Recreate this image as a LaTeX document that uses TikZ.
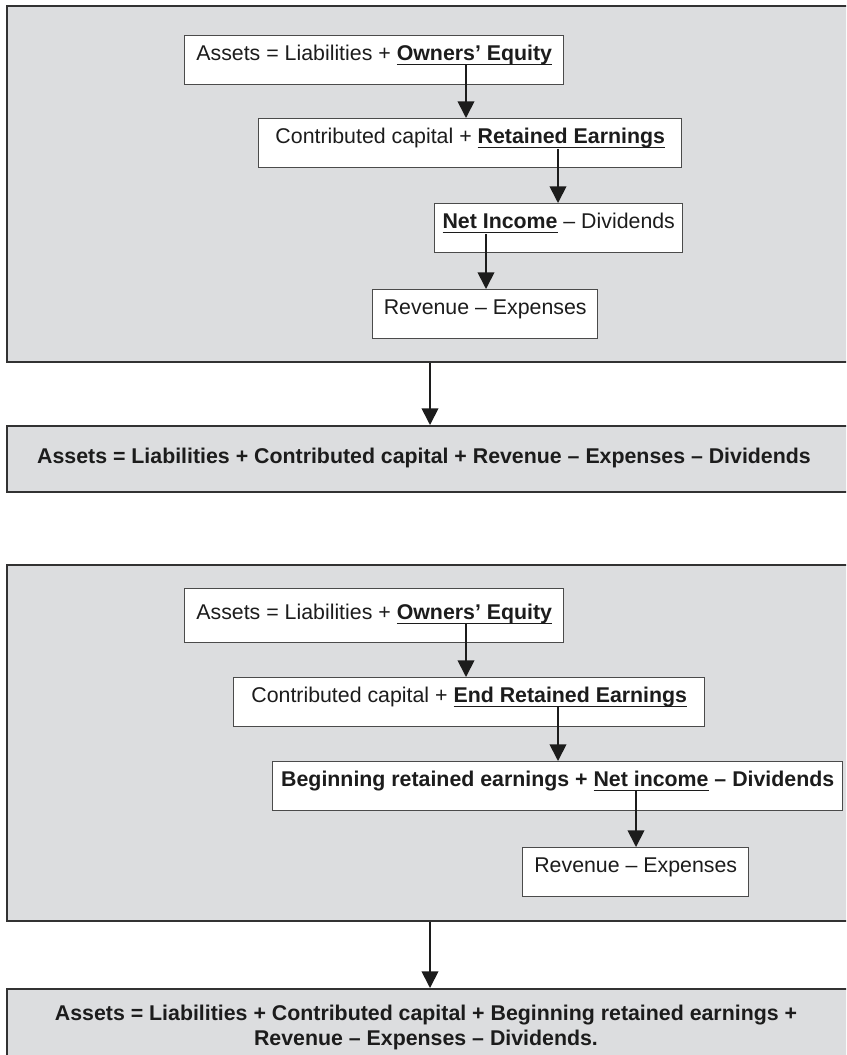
\documentclass[tikz,border=0pt]{standalone}
\usepackage{fontspec}
\setmainfont{Liberation Sans}
\usetikzlibrary{arrows.meta}
\definecolor{panelgray}{RGB}{220,221,223}
\definecolor{framegray}{RGB}{50,50,50}
\definecolor{boxline}{RGB}{75,75,75}
\definecolor{inkcol}{RGB}{28,28,28}
% underline drawn a little below the baseline, through the descenders
\newlength\undlwd
\newcommand\undl[1]{\settowidth{\undlwd}{#1}\rlap{\rule[-3.3pt]{\undlwd}{0.9pt}}#1}

\begin{document}
\begin{tikzpicture}[x=0.75pt,y=-0.75pt,
  font=\fontsize{16}{18.75}\selectfont, text=inkcol,
  panel/.style={draw=framegray, line width=1.5pt, fill=panelgray,
    anchor=north west, inner sep=0pt, minimum width=634.5pt},
  panelh/.style={minimum height=#1*0.75pt},
  eqbox/.style={draw=boxline, line width=1.1pt, fill=white,
    anchor=north west, inner sep=0pt, text height=18.75pt, text depth=18pt},
  boxw/.style={minimum width=#1*0.75pt},
  sumtext/.style={font=\fontsize{16}{18.75}\selectfont\bfseries, inner sep=0pt},
  arr/.style={draw=inkcol, line width=1.3pt, -{Triangle[width=12.5pt,length=12.5pt]}}
]
\path[use as bounding box, clip] (0,0) rectangle (846,1055);
\fill[white] (0,0) rectangle (846,1055);

% ---------- first derivation ----------
\node[panel, panelh=356] (p1) at (6,5) {};
\node[eqbox, boxw=379] (a1) at (184,35)
  {Assets = Liabilities + \undl{\textbf{Owners’ Equity}}};
\node[eqbox, boxw=423] (b1) at (258,118)
  {Contributed capital + \undl{\textbf{Retained Earnings}}};
\node[eqbox, boxw=248] (c1) at (434,203)
  {\undl{\textbf{Net Income}} – Dividends};
\node[eqbox, boxw=225] (d1) at (372,289)
  {Revenue – Expenses};

\coordinate (s1) at (466,65);
\coordinate (s2) at (558,149);
\coordinate (s3) at (486,234);
\draw[arr] (s1) -- (s1 |- b1.north);
\draw[arr] (s2) -- (s2 |- c1.north);
\draw[arr] (s3) -- (s3 |- d1.north);

\node[panel, panelh=66] (e1) at (6,425) {};
\node[sumtext] (e1t) at (424,458)
  {Assets = Liabilities + Contributed capital + Revenue – Expenses – Dividends};
\draw[arr] (p1.south) -- (e1.north);

% ---------- second derivation ----------
\node[panel, panelh=356] (p2) at (6,564) {};
\node[eqbox, boxw=379, text height=23.25pt, text depth=17.25pt] (a2) at (184,588)
  {Assets = Liabilities + \undl{\textbf{Owners’ Equity}}};
\node[eqbox, boxw=471] (b2) at (233,677)
  {Contributed capital + \undl{\textbf{End Retained Earnings}}};
\node[eqbox, boxw=570] (c2) at (272,761)
  {\textbf{Beginning retained earnings + \undl{Net income} – Dividends}};
\node[eqbox, boxw=226] (d2) at (522,847)
  {Revenue – Expenses};

\coordinate (t1) at (466,624);
\coordinate (t2) at (558,706);
\coordinate (t3) at (636,791);
\draw[arr] (t1) -- (t1 |- b2.north);
\draw[arr] (t2) -- (t2 |- c2.north);
\draw[arr] (t3) -- (t3 |- d2.north);

\node[panel, panelh=100] (e2) at (6,988) {};
\node[sumtext, align=center, anchor=north] (e2t) at (426,1005)
  {Assets = Liabilities + Contributed capital + Beginning retained earnings +\\
   Revenue – Expenses – Dividends.};
\draw[arr] (p2.south) -- (e2.north);
\end{tikzpicture}
\end{document}
